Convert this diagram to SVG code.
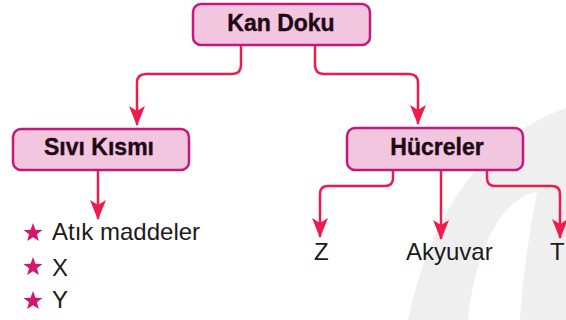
<svg xmlns="http://www.w3.org/2000/svg" width="566" height="320" viewBox="0 0 566 320">
<style>
.box{fill:#f3c6e0;stroke:#c2197c;stroke-width:2.5}
.bt{font-family:"Liberation Sans",Arial,sans-serif;font-weight:bold;font-size:23px;fill:#1e0a14;text-anchor:middle;stroke:#1e0a14;stroke-width:0.4}
.t{font-family:"Liberation Sans",Arial,sans-serif;font-size:24px;fill:#1e1a1c}
.c{fill:none;stroke:#ee1c4c;stroke-width:2.5}
.star{fill:#d4176e}
</style>
<defs>
<marker id="ah" viewBox="0 0 20 16" refX="19" refY="8" markerWidth="20" markerHeight="16" markerUnits="userSpaceOnUse" orient="auto">
<path d="M0,0 L20,8 L0,16 L5,8 Z" fill="#ee1c4c"/>
</marker>
<path id="st" class="star" d="M0,-10 L2.43,-3.34 L9.51,-3.09 L3.93,1.28 L5.88,8.09 L0,4.13 L-5.88,8.09 L-3.93,1.28 L-9.51,-3.09 L-2.43,-3.34 Z"/>
</defs>
<rect width="566" height="320" fill="#ffffff"/>
<g id="watermark" fill="#efefef">
<path d="M408,320 C428,225 475,140 566,108 L566,320 Z"/>
<path d="M468,320 C474,262 492,222 512,205 C522,197 530,192 537,192 C530,230 522,280 520,320 Z" fill="#ffffff"/>
</g>
<g id="connectors">
<path class="c" d="M241,45 V65 Q241,74 232,74 H146 Q137,74 137,83 V125" marker-end="url(#ah)"/>
<path class="c" d="M315,45 V65 Q315,74 324,74 H409 Q418,74 418,83 V124" marker-end="url(#ah)"/>
<path class="c" d="M98,170 V219" marker-end="url(#ah)"/>
<path class="c" d="M393,170 V178 Q393,186 385,186 H328 Q320,186 320,194 V237" marker-end="url(#ah)"/>
<path class="c" d="M441,170 V239" marker-end="url(#ah)"/>
<path class="c" d="M487,170 V178 Q487,186 495,186 H552 Q560,186 560,194 V238" marker-end="url(#ah)"/>
</g>
<g id="kan-doku">
<rect class="box" x="193" y="4" width="177" height="41" rx="8"/>
<text class="bt" x="281" y="31">Kan Doku</text>
</g>
<g id="sivi-kismi">
<rect class="box" x="13" y="129" width="176" height="41" rx="8"/>
<text class="bt" x="99" y="155">Sıvı Kısmı</text>
</g>
<g id="hucreler">
<rect class="box" x="347" y="128" width="176" height="42" rx="8"/>
<text class="bt" x="437" y="155">Hücreler</text>
</g>
<g id="sivi-items">
<use href="#st" x="33" y="233"/>
<text class="t" x="52" y="240">Atık maddeler</text>
<use href="#st" x="33" y="267"/>
<text class="t" x="52" y="276">X</text>
<use href="#st" x="33" y="301"/>
<text class="t" x="52" y="308">Y</text>
</g>
<g id="z"><text class="t" x="314" y="260">Z</text></g>
<g id="akyuvar"><text class="t" x="406" y="260">Akyuvar</text></g>
<g id="t"><text class="t" x="550" y="260">T</text></g>
</svg>
